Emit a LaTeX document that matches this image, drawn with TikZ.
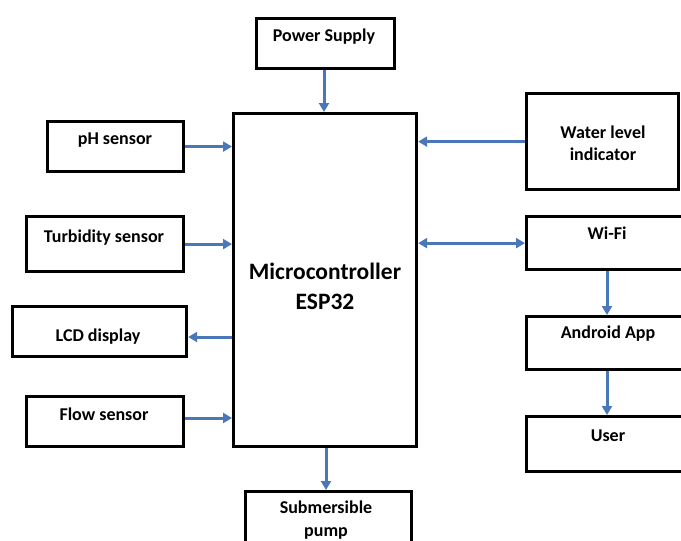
\documentclass[tikz,border=0pt]{standalone}
\usepackage{fontspec}
\setmainfont{Carlito}
\usetikzlibrary{arrows.meta}
\definecolor{arrblue}{HTML}{4A76BA}
\tikzset{
  box/.style={draw=black, line width=3.2pt, rectangle, inner sep=0pt, anchor=north west},
  lbl/.style={font=\bfseries\fontsize{18}{22.5}\selectfont, align=center, inner sep=0pt},
  biglbl/.style={font=\bfseries\fontsize{23.5}{30}\selectfont, align=center, inner sep=0pt},
  arr/.style={draw=arrblue, line width=3pt, -{Triangle[length=9pt,width=10pt]}},
  darr/.style={draw=arrblue, line width=3pt, {Triangle[length=9pt,width=10pt]}-{Triangle[length=9pt,width=10pt]}}
}
\begin{document}
\begin{tikzpicture}[x=1pt, y=-1pt]
\useasboundingbox (0,0) rectangle (681,541);
% boxes
\node[box, minimum width=138pt, minimum height=50pt] (ps) at (255,17) {};
\node[box, minimum width=183pt, minimum height=333pt] (mc) at (232,112) {};
\node[box, minimum width=136pt, minimum height=50pt] (ph) at (46,120) {};
\node[box, minimum width=157pt, minimum height=55pt] (tb) at (25,215) {};
\node[box, minimum width=174pt, minimum height=50pt] (lcd) at (11,305) {};
\node[box, minimum width=157pt, minimum height=50pt] (fl) at (25,395) {};
\node[box, minimum width=152pt, minimum height=96pt] (wl) at (525,92) {};
\node[box, minimum width=170pt, minimum height=53pt] (wf) at (525,215) {};
\node[box, minimum width=170pt, minimum height=53pt] (aa) at (525,315) {};
\node[box, minimum width=170pt, minimum height=55pt] (us) at (525,415) {};
\node[box, minimum width=166pt, minimum height=70pt] (sp) at (244,490) {};
% labels
\node[lbl] (t-ps) at (324,37) {Power Supply};
\node[lbl] (t-ph) at (115,140) {pH sensor};
\node[lbl] (t-tb) at (104,238) {Turbidity sensor};
\node[lbl] (t-lcd) at (98,337) {LCD display};
\node[lbl] (t-fl) at (104,414) {Flow sensor};
\node[lbl] (t-wl) at (603,143) {Water level\\indicator};
\node[lbl] (t-wf) at (607,233) {Wi-Fi};
\node[lbl] (t-aa) at (608,334) {Android App};
\node[lbl] (t-us) at (608,436) {User};
\node[lbl] (t-sp) at (326,520) {Submersible\\pump};
\node[biglbl] (t-mc) at (325,286) {Microcontroller\\ESP32};
% arrows
\coordinate (c-lcd) at (232,337);
\coordinate (c-fl) at (232,418);
\draw[arr] (ps.south -| 324,0) -- (mc.north -| 324,0);
\draw[arr] (ph.east) -- (mc.west |- ph.east);
\draw[arr] (tb.east) -- (mc.west |- tb.east);
\draw[arr] (c-lcd) -- (lcd.east |- c-lcd);
\draw[arr] (fl.east |- c-fl) -- (c-fl);
\draw[arr] (wl.west) -- (mc.east |- wl.west);
\draw[darr] (mc.east |- wf.west) -- (wf.west);
\draw[arr] (wf.south -| 607,0) -- (aa.north -| 607,0);
\draw[arr] (aa.south -| 607,0) -- (us.north -| 607,0);
\draw[arr] (mc.south -| 326,0) -- (sp.north -| 326,0);
\end{tikzpicture}
\end{document}
